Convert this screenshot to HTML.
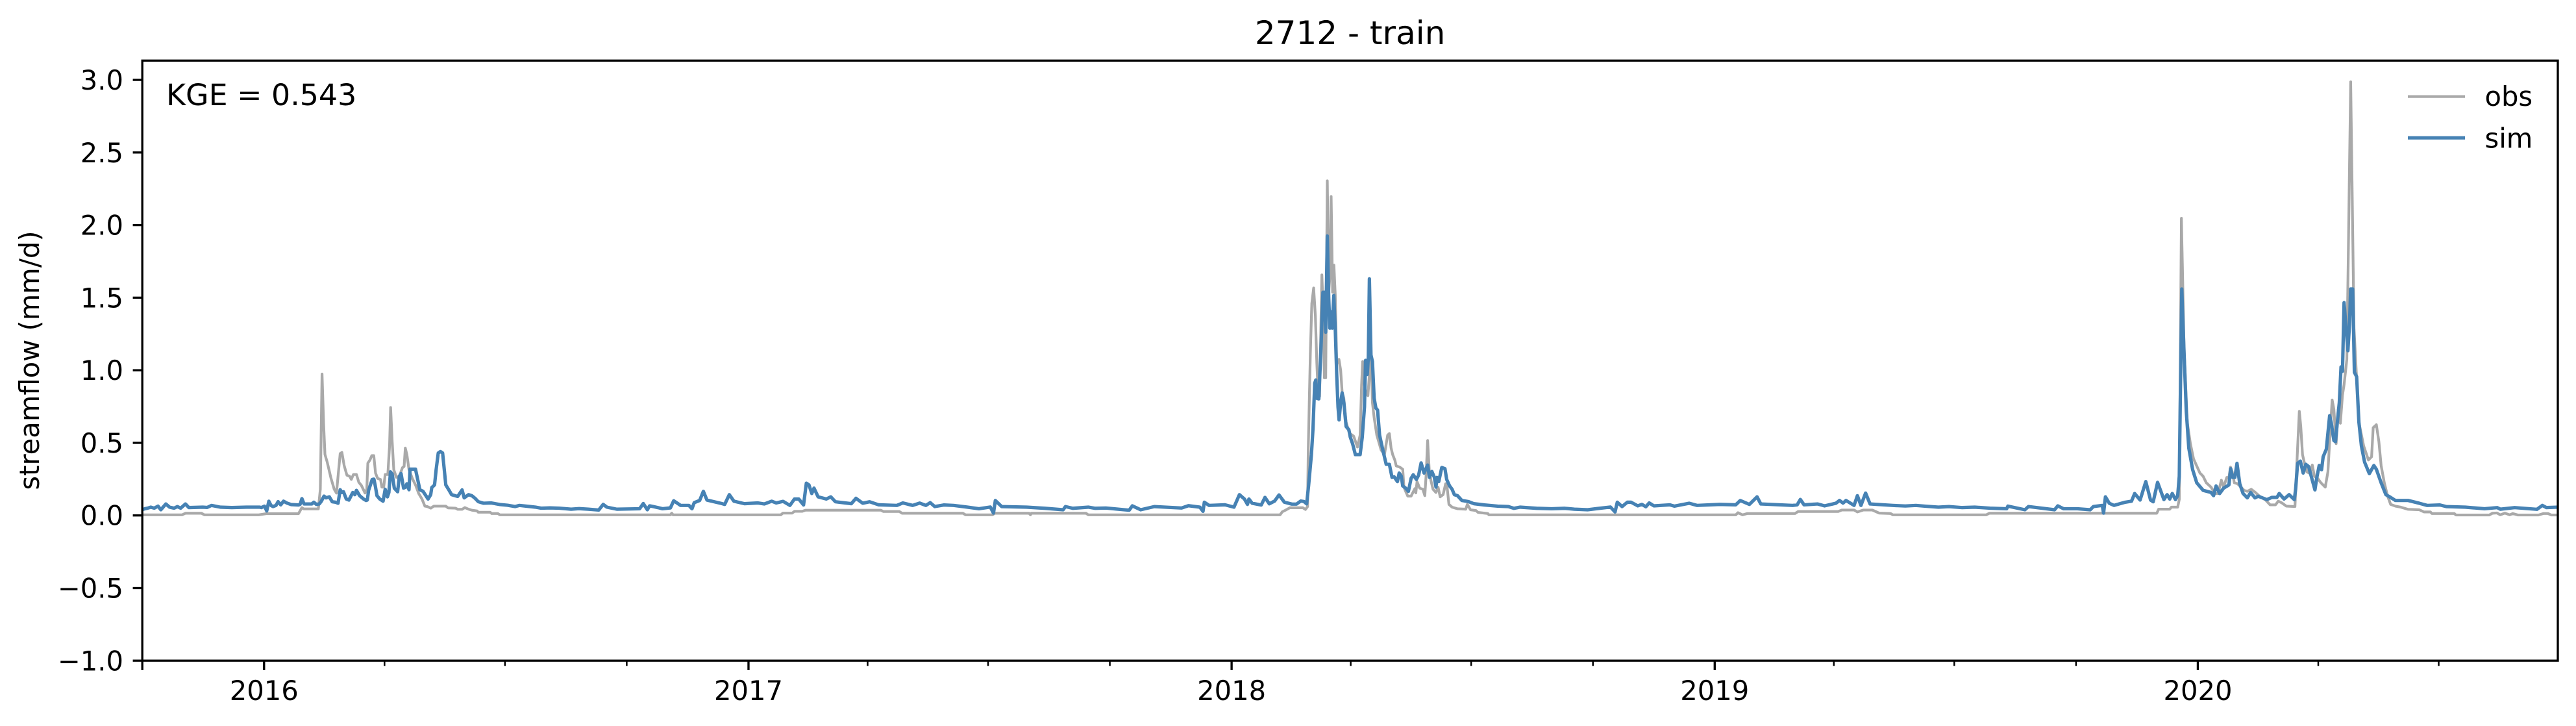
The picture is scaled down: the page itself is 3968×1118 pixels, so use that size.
<!DOCTYPE html>
<html lang="en">
<head>
<meta charset="utf-8">
<title>2712 - train</title>
<style>
html,body{margin:0;padding:0;background:#fff;}
#chart{display:block;width:3968px;height:1118px;}
text{font-family:"DejaVu Sans","Liberation Sans",sans-serif;fill:#000;}
</style>
</head>
<body>
<svg id="chart" xmlns="http://www.w3.org/2000/svg" width="3968" height="1118" viewBox="0 0 3968 1118">
  <defs><clipPath id="plot-clip"><rect x="219.2" y="93.3" width="3720.8" height="924"/></clipPath></defs>
  <rect x="0" y="0" width="3968" height="1118" fill="#fff"/>
  <text x="2079.6" y="68" font-size="50" text-anchor="middle">2712 - train</text>
  <g id="series-layer" clip-path="url(#plot-clip)"></g>
  <g id="tick-layer"></g>
  <rect x="219.2" y="93.3" width="3720.8" height="924" fill="none" stroke="#000" stroke-width="3.33"/>
  <text x="0" y="0" font-size="41.67" text-anchor="middle" transform="translate(60 555) rotate(-90)">streamflow (mm/d)</text>
  <text x="256" y="162" font-size="45.83">KGE = 0.543</text>
  <g>
    <line x1="3709" y1="148.7" x2="3797" y2="148.7" stroke="#a9a9a9" stroke-width="4.17"/>
    <text x="3827.5" y="163" font-size="41.67">obs</text>
    <line x1="3709" y1="212.3" x2="3797" y2="212.3" stroke="#4682b4" stroke-width="5.2"/>
    <text x="3827.5" y="227.5" font-size="41.67">sim</text>
  </g>
</svg>
<script>
// Time is days since 2015-10-01; values are mm/d.
const xDomain = [0, 1825];
const yDomain = [-1, 3.133];
const yTickValues = [-1, -0.5, 0, 0.5, 1, 1.5, 2, 2.5, 3];
const xTickLabels = ['2016', '2017', '2018', '2019', '2020'];
const xTickDays = [92, 458, 823, 1188, 1553];
const xMinorDays = [183, 274, 366, 548, 639, 731, 913, 1004, 1096, 1278, 1369, 1461, 1644, 1735];

const obsDays = [
0,30,32.6,44.7,46.9,88,93.6,95,118,120.6,122,133,
134.5,135.8,137,138,139.7,142.6,145,146.7,147.9,149.5,150.8,152.5,
154.6,156.6,157.9,159.5,161.8,163.6,165.5,168.3,169.6,170.4,172,173.4,
174.9,176.2,177.8,180,181,182.4,183.5,185.5,186.8,187.6,188.8,190,
192,194.2,196.6,197.8,198.7,199.9,201.5,204,206.4,208.9,211.3,213.5,
215.4,217.9,220.3,229.3,231,236.7,238.3,241.6,243.7,246.5,249,253,
253.8,262.8,264,268.6,270.2,399,400,401,482.4,484,491,492.7,
498.6,501,558,560,572,574,620,622,642.4,644,670,671,
671.7,713,714.7,859.6,861.3,863.7,867,876.8,878.8,880.4,880.9,882.5,
883.6,885,886.3,887.4,888.5,889.5,890.3,891.2,892,893.1,894.1,895.3,
896.4,897.4,898.2,899.3,900.3,901.3,902.4,904.1,905.4,906.5,907.8,909.5,
911.9,915.2,918.1,920.1,921.2,922,923.4,924.7,926,927.1,928.4,929.4,
930.7,932.7,936,938.5,940.9,942.2,943.5,944.7,946.3,947.4,950,952.3,
953.2,954.5,956.1,958.6,961.5,962.2,963.1,965.1,967.5,969,970,971.1,
972.3,973.6,975.2,977.4,979,980.6,982.8,984.7,985.9,987.2,989.6,993.7,
999.9,1001.1,1003.5,1007.6,1009.2,1016.6,1017.4,1203.9,1205.6,1209,1212.5,1248.6,
1251,1281.3,1284,1293.3,1295.8,1300.2,1307.1,1312.3,1320.9,1322.6,1393.1,1395.5,
1522,1523.4,1531.8,1533,1537.8,1539,1540.6,1542.6,1545,1547.4,1549.8,1554.6,
1557,1559.4,1563,1565.9,1568.3,1570.8,1572.5,1574.9,1576.5,1577.7,1579,1580.6,
1583.1,1588,1590.4,1593.4,1596.2,1600.2,1604.3,1607.6,1611.7,1613.8,1616.6,1619.9,
1626.4,1628,1629.7,1630.8,1632.1,1633.4,1635.4,1637.5,1639.5,1641.1,1643.6,1646,
1649.3,1651.3,1652.6,1654.5,1655.8,1657.5,1659.1,1660.7,1662.3,1663.5,1665.6,1668.5,
1671,1674.7,1678.3,1681.9,1684.3,1685.5,1687.9,1689.8,1691.5,1693.9,1696.3,1698.7,
1702.3,1705.9,1711.9,1720.3,1723.9,1728.7,1729.9,1746.8,1748,1773.2,1775.6,1779,
1781.5,1785,1788.6,1791,1794.8,1810.4,1814,1817.6,1820,1825
];
const obsValues = [
.004,.004,.015,.015,.004,.004,.012,.012,.012,.054,.045,.045,
.18,.974,.63,.42,.367,.255,.18,.154,.27,.426,.434,.344,
.277,.27,.248,.282,.282,.228,.207,.154,.18,.36,.382,.412,
.412,.292,.255,.248,.195,.195,.282,.282,.479,.744,.508,.315,
.262,.27,.33,.337,.464,.419,.315,.255,.21,.15,.113,.064,
.061,.05,.064,.064,.052,.05,.042,.042,.054,.043,.036,.031,
.022,.022,.013,.013,.004,.004,.016,.004,.004,.016,.016,.028,
.028,.036,.036,.027,.027,.015,.015,.004,.004,.015,.015,.004,
.015,.015,.004,.004,.025,.036,.053,.053,.041,.061,.449,1.12,
1.46,1.567,1.373,1.045,.807,.82,1.22,1.657,1.46,.948,.948,2.305,
1.537,1.67,2.197,1.537,1.724,1.52,1.045,1.075,1,.85,.807,.643,
.568,.546,.471,.553,.896,1.06,.896,.837,.825,.97,1.105,.777,
.673,.553,.45,.42,.553,.564,.464,.419,.382,.341,.333,.318,
.195,.166,.133,.133,.185,.155,.233,.188,.18,.136,.285,.516,
.315,.24,.18,.158,.195,.128,.143,.218,.188,.076,.057,.046,
.043,.076,.039,.034,.021,.013,.004,.004,.019,.004,.013,.013,
.027,.027,.037,.037,.024,.037,.037,.016,.013,.004,.004,.015,
.015,.043,.043,.057,.057,.11,2.047,1.165,.643,.494,.389,.292,
.27,.225,.195,.151,.151,.243,.195,.262,.262,.333,.3,.225,
.218,.173,.166,.18,.161,.128,.106,.073,.073,.098,.086,.064,
.061,.389,.717,.613,.419,.367,.3,.29,.347,.27,.255,.225,
.195,.3,.508,.795,.732,.494,.732,.635,.829,.9,1.075,2.987,
1.29,.643,.479,.382,.404,.605,.625,.509,.344,.225,.136,.076,
.064,.058,.042,.039,.024,.024,.013,.013,.003,.003,.015,.017,
.004,.016,.004,.013,.003,.003,.013,.013,.003,.003
];

const simDays = [
0,2,4,6.4,9,11.9,14,17.8,20.6,24,26.5,29,32.6,35.2,45.7,49,52.3,58.9,67.6,78.6,88.7,90,92.3,94,
95.6,97.2,98.8,101,102.6,104.6,106.7,109.1,112.4,118.1,119.2,120.6,122.2,128,129.6,131.5,133.7,135.3,137.3,138.9,141.3,143.5,146,147.9,
149.5,150.8,152,154.1,156.1,159,160.6,161.8,164.2,167.2,169.1,170,171,173.7,175,176.2,177.3,179.4,181.9,183.5,185.2,186.3,187.5,188.8,
190.4,192.9,194.2,195.5,197.4,199,199.9,201.5,202.3,206.4,209.7,212.1,215.9,217.9,218.7,220.8,222,223.6,225.2,226.9,229.3,231.8,233.7,238.3,241.6,
243.2,246.5,249,251.4,253.8,257.9,263.7,270.2,276,281.6,284.9,292,297,301.3,308,315,324,330,337,344.8,348.2,351,358.5,375.7,378.5,
381.6,383.3,386,389.5,393,399,401.5,406.7,413,415.3,417,421.1,423.9,426.6,437.7,440,443.5,447,454.9,465.2,
470,475.5,479,484.1,489.3,492.7,496,499.6,501.7,503.7,505.8,507.5,510.6,516.8,520.2,523.7,535.7,539.2,544.3,549.5,
556.4,570.1,574.6,582,587.3,592,595.3,598.7,605.5,613,623.5,632.1,640.7,643.1,644.5,649.3,668.2,682,695.7,697.5,
703,714.7,720,728,736,745.6,748,754.3,764.6,785.2,790.4,799,801.4,802.4,806,818,824.8,828.9,832.7,835,836.1,838.5,
845.4,848.2,851.5,855.5,858.8,862.9,868.6,872,875.2,877.6,879.7,881.2,883.3,884.5,885.8,886.6,887.4,888.9,890.7,892,
893.1,894.1,895.3,896.4,897.2,898,899,900.2,901.3,902.4,903.4,904.2,905.4,906.5,907.8,909.5,911.6,912.7,914.4,916.5,
920.1,921.7,923.4,924.2,925.5,926.3,927.1,928.3,929.4,930.7,932,933.3,934.8,937.3,939.8,942.2,944.2,945.8,948.3,949.6,
951.2,952.3,954.5,956.6,958.6,960.2,962.6,964.3,966.2,968.4,971.1,972.5,974.3,976.2,977.4,978.2,979.5,981.8,984.2,985.5,
987.7,989.6,991.3,993.7,997,1002,1006,1014.1,1024,1032.1,1036.2,1041.1,1053.4,1064.8,1074.8,1082,1092,1100,1109.2,1112.7,1114.4,1118,
1122,1124.8,1129.9,1133,1136,1138.5,1142,1154,1157.5,1168.8,1174.6,1191.8,1203.9,1207.3,1214.2,1220,1222.8,1246.9,1250.3,1252.7,
1255.5,1265.8,1271,1279.6,1282.3,1285,1287.2,1293.3,1295.8,1298.5,1302,1305.4,1322.6,1332,1340,1346.7,1357,1365,1375,1384.5,1396,1408.6,1409.5,1422.4,1425,
1444.8,1447.2,1451.6,1462,1471.7,1474.1,1480.8,1481.8,1483.2,1486.1,1489.7,1498.1,1502.9,1505.3,1509.4,1513.7,1517.3,1519.3,1522.6,1527.4,
1529.8,1531.8,1533.7,1536.1,1537.8,1539,1540.9,1542.6,1544.3,1546.2,1549.1,1552.2,1557,1563,1564.9,1566.8,1569.5,1572.5,1576.5,1577.8,
1579.3,1581,1582.6,1584.7,1587.2,1590.4,1592.9,1596.2,1598.6,1601,1605.2,1608.9,1612.8,1614.5,1618.2,1622,1625.9,1626.9,1628.4,1630.5,
1632.6,1634.6,1636.7,1641.5,1642.8,1644.7,1646.5,1647.7,1650.1,1652.6,1653.8,1655.8,1657,1658.6,1659.9,1661.2,1662.3,1663.5,1664.8,1666.4,
1667.6,1668.5,1670,1671.3,1673,1674.7,1676.6,1679,1682.6,1686,1687.9,1691.5,1695.1,1698,1702.3,1711.9,1720.3,1726.3,1735.9,1740.8,
1755.1,1769.6,1779.2,1781.6,1792.4,1809.2,1813.3,1816.4,1825
];
const simValues = [
.04,.046,.05,.057,.05,.064,.039,.079,.057,.05,.061,.05,.079,.054,.057,.055,.069,.057,.054,.057,.057,.054,.064,.031,
.098,.069,.061,.069,.095,.073,.098,.086,.075,.072,.076,.116,.079,.079,.091,.076,.079,.098,.133,.121,.128,.094,.091,.084,
.177,.158,.163,.113,.106,.158,.143,.173,.136,.113,.103,.106,.173,.248,.25,.195,.136,.113,.098,.18,.128,.158,.3,.285,
.188,.163,.27,.288,.188,.195,.218,.177,.319,.319,.177,.166,.113,.143,.192,.21,.315,.43,.44,.43,.21,.173,.143,.131,.176,
.121,.143,.136,.118,.095,.084,.086,.075,.07,.061,.069,.062,.057,.05,.052,.05,.043,.047,.043,.037,.076,.057,.043,.046,.082,
.039,.066,.061,.054,.046,.052,.101,.069,.069,.046,.088,.103,.166,.106,.082,.076,.143,.098,.081,.086,
.079,.098,.086,.097,.069,.113,.113,.072,.222,.21,.151,.188,.128,.113,.128,.094,.081,.118,.084,.094,
.073,.069,.086,.069,.085,.069,.088,.061,.072,.069,.057,.046,.058,.016,.103,.061,.057,.049,.039,.061,
.049,.057,.049,.051,.044,.036,.066,.039,.061,.051,.067,.057,.028,.091,.069,.073,.057,.143,.113,.076,.113,.084,
.072,.124,.08,.099,.141,.091,.078,.078,.099,.096,.08,.207,.419,.598,.911,.933,.807,.803,1.194,1.537,
1.537,1.262,1.925,1.493,1.29,1.403,1.29,1.515,1.29,.971,.747,.658,.777,.844,.777,.613,.59,.538,.494,.419,
.419,.538,.747,1.068,.971,1.09,1.63,1.105,1.06,.807,.74,.725,.553,.449,.352,.352,.262,.266,.233,.292,
.27,.203,.188,.166,.255,.28,.248,.277,.362,.292,.347,.262,.303,.262,.195,.262,.233,.33,.322,.248,
.203,.18,.143,.136,.103,.095,.081,.072,.064,.061,.049,.057,.049,.046,.049,.043,.039,.048,.058,.024,.091,.061,
.091,.091,.066,.076,.06,.086,.066,.073,.064,.084,.069,.076,.073,.103,.076,.128,.079,.069,.073,.11,
.073,.079,.066,.084,.103,.085,.103,.069,.136,.069,.154,.079,.069,.065,.069,.064,.057,.061,.054,.057,.05,.046,.064,.039,.061,
.039,.066,.046,.046,.039,.061,.069,.016,.128,.084,.069,.091,.098,.151,.106,.233,.106,.094,.228,.109,
.143,.113,.151,.109,.136,.27,1.56,1.12,.717,.464,.315,.225,.173,.158,.136,.203,.151,.188,.21,.322,
.262,.262,.359,.218,.151,.121,.158,.121,.132,.124,.109,.124,.124,.151,.113,.143,.109,.18,.359,.374,
.292,.352,.337,.176,.255,.344,.315,.404,.456,.687,.64,.516,.508,.658,.777,1.023,.993,1.466,1.314,1.135,
1.314,1.56,1.56,.986,.956,.643,.479,.367,.288,.344,.318,.225,.143,.128,.103,.103,.084,.069,.072,.061,
.057,.046,.054,.043,.054,.042,.069,.054,.057
];

const SVG_NS = 'http://www.w3.org/2000/svg';
const plot = { left: 219.2, right: 3940, top: 93.3, bottom: 1017.3 };

function xScale(day) {
  return plot.left + (day - xDomain[0]) / (xDomain[1] - xDomain[0]) * (plot.right - plot.left);
}
function yScale(v) {
  return plot.bottom - (v - yDomain[0]) / (yDomain[1] - yDomain[0]) * (plot.bottom - plot.top);
}
function make(tag) {
  return document.createElementNS(SVG_NS, tag);
}
function seriesPoints(days, values) {
  const n = Math.min(days.length, values.length);
  const pts = [];
  for (let i = 0; i < n; i++) {
    pts.push(xScale(days[i]).toFixed(2) + ',' + yScale(values[i]).toFixed(2));
  }
  return pts.join(' ');
}

const seriesLayer = document.getElementById('series-layer');
const tickLayer = document.getElementById('tick-layer');

const obsLine = make('polyline');


obsLine.setAttribute('points', seriesPoints(obsDays, obsValues));
obsLine.setAttribute('fill', 'none');
obsLine.setAttribute('stroke', '#a9a9a9');
obsLine.setAttribute('stroke-width', '4.17');
obsLine.setAttribute('stroke-linejoin', 'round');
seriesLayer.appendChild(obsLine);

const simLine = make('polyline');


simLine.setAttribute('points', seriesPoints(simDays, simValues));
simLine.setAttribute('fill', 'none');
simLine.setAttribute('stroke', '#4682b4');
simLine.setAttribute('stroke-width', '5.2');
simLine.setAttribute('stroke-linejoin', 'round');
seriesLayer.appendChild(simLine);

yTickValues.forEach(function (v) {
  const y = yScale(v);
  const tick = make('line');
  
  
  tick.setAttribute('x1', plot.left);
  tick.setAttribute('x2', plot.left - 14.6);
  tick.setAttribute('y1', y);
  tick.setAttribute('y2', y);
  tick.setAttribute('stroke', '#000');
  tick.setAttribute('stroke-width', '3.33');
  tickLayer.appendChild(tick);
  const label = make('text');
  
  
  label.setAttribute('x', 190);
  label.setAttribute('y', y + 15);
  label.setAttribute('font-size', '41.67');
  label.setAttribute('text-anchor', 'end');
  label.textContent = (v < 0 ? '\u2212' : '') + Math.abs(v).toFixed(1);
  tickLayer.appendChild(label);
});

[xDomain[0]].concat(xTickDays).forEach(function (d) {
  const x = xScale(d);
  const tick = make('line');
  
  
  tick.setAttribute('x1', x);
  tick.setAttribute('x2', x);
  tick.setAttribute('y1', plot.bottom);
  tick.setAttribute('y2', plot.bottom + 14.6);
  tick.setAttribute('stroke', '#000');
  tick.setAttribute('stroke-width', '3.33');
  tickLayer.appendChild(tick);
});

xMinorDays.forEach(function (d) {
  const x = xScale(d);
  const tick = make('line');
  
  
  tick.setAttribute('x1', x);
  tick.setAttribute('x2', x);
  tick.setAttribute('y1', plot.bottom);
  tick.setAttribute('y2', plot.bottom + 8.3);
  tick.setAttribute('stroke', '#000');
  tick.setAttribute('stroke-width', '2.5');
  tickLayer.appendChild(tick);
});

xTickDays.forEach(function (d, i) {
  const label = make('text');
  
  
  label.setAttribute('x', xScale(d));
  label.setAttribute('y', 1078);
  label.setAttribute('font-size', '41.67');
  label.setAttribute('text-anchor', 'middle');
  label.textContent = xTickLabels[i];
  tickLayer.appendChild(label);
});
</script>
</body>
</html>
